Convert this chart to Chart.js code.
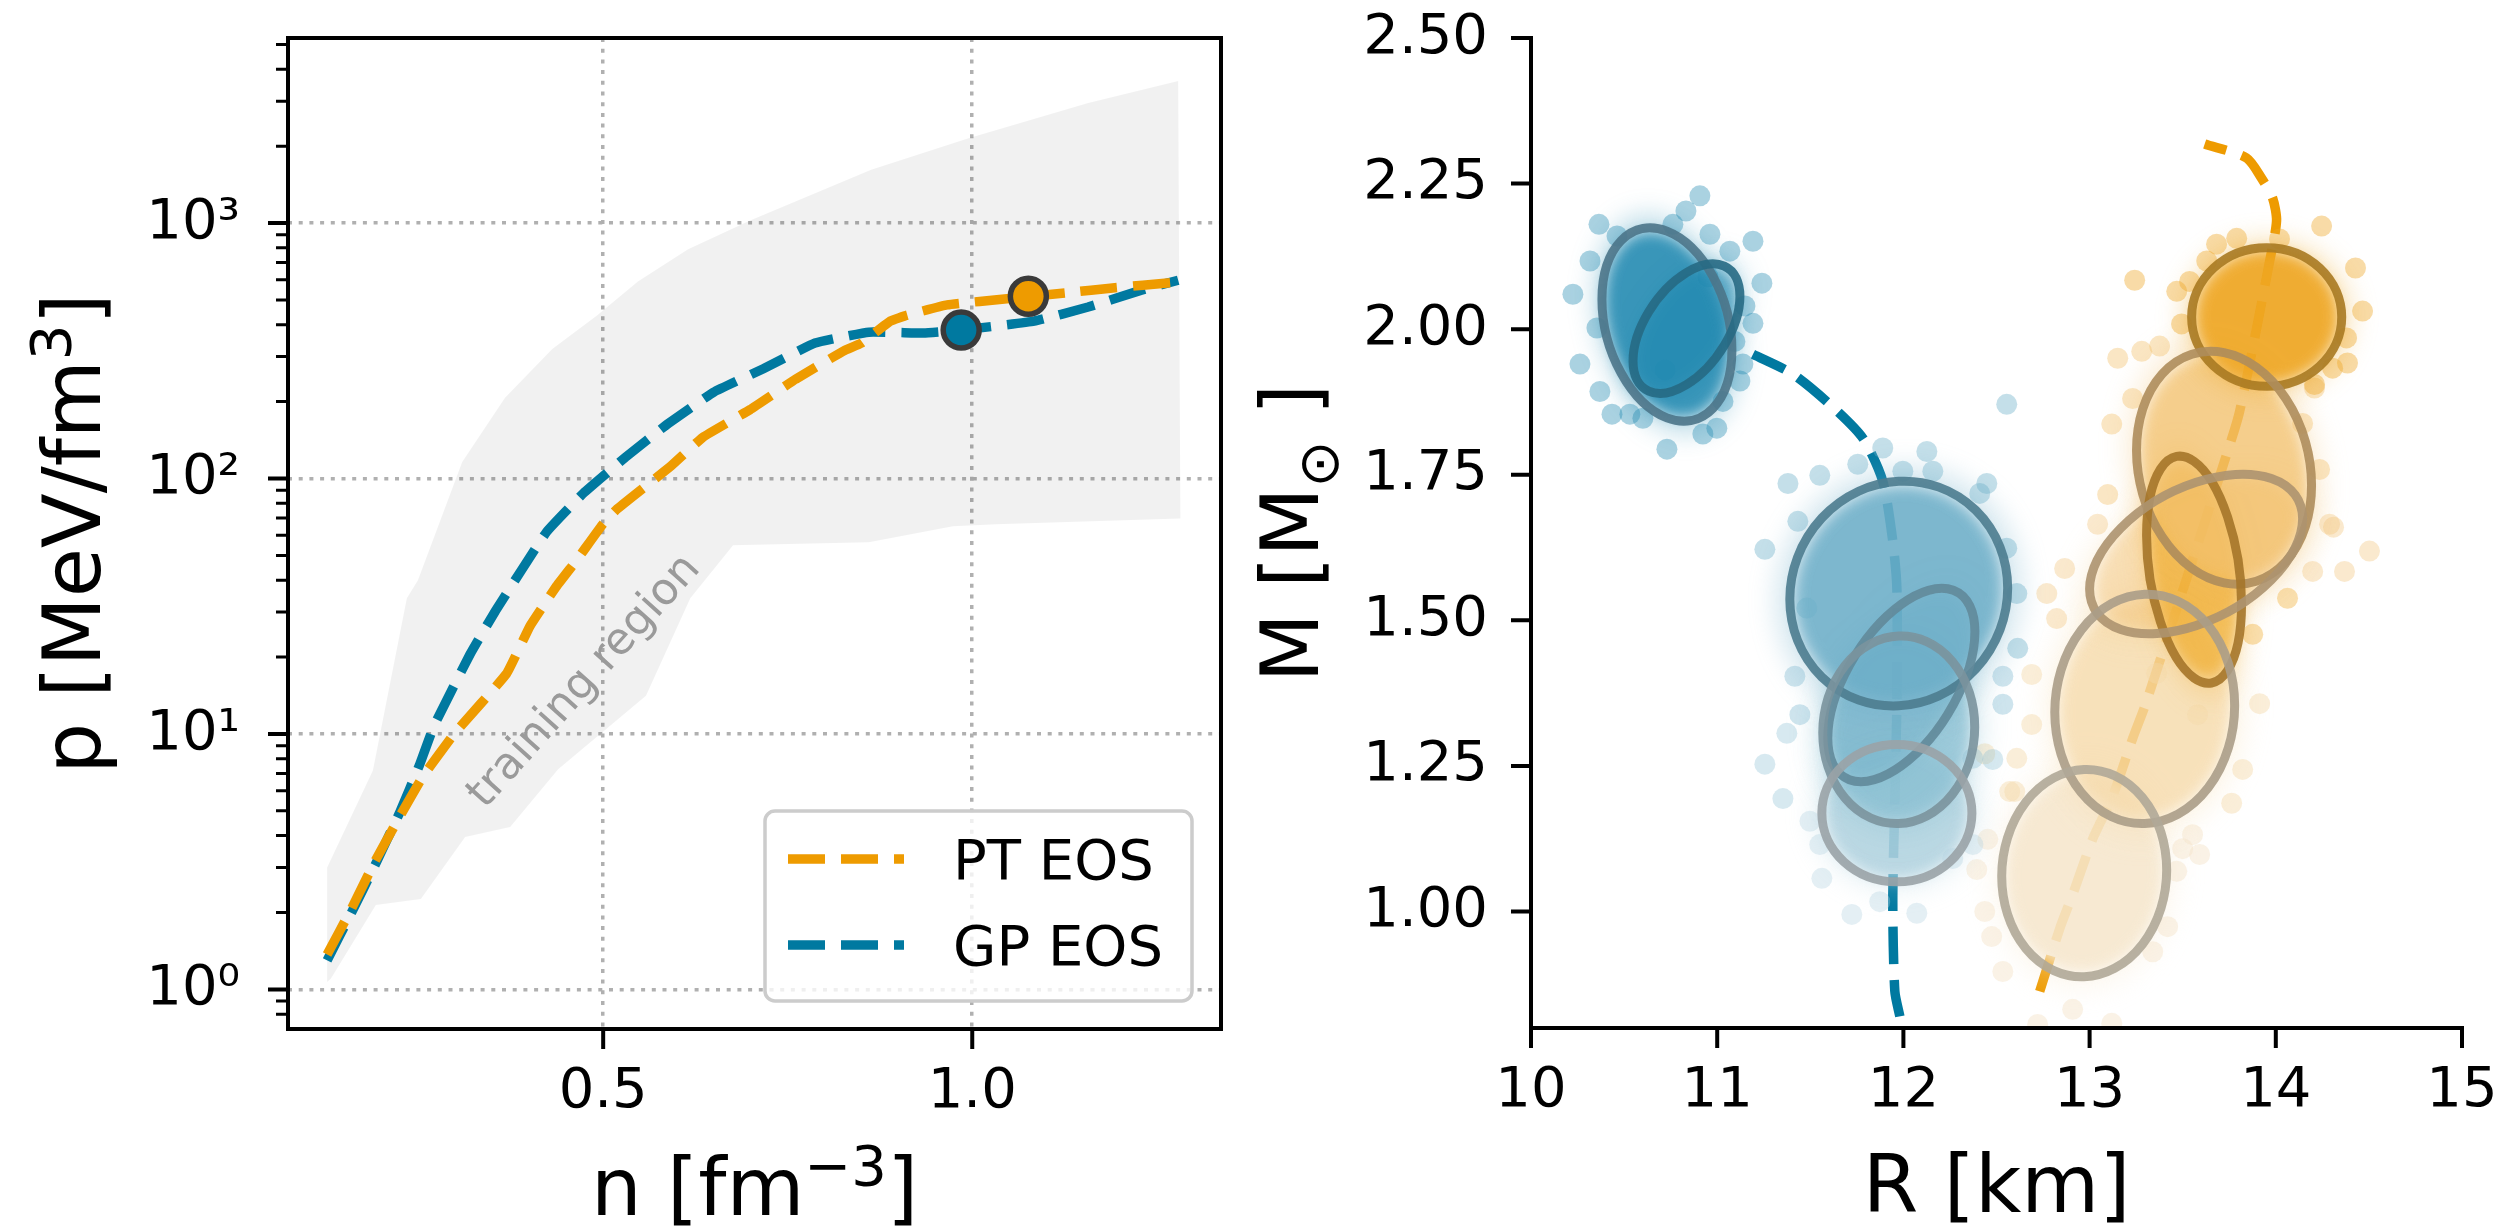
<!DOCTYPE html>
<html>
<head>
<meta charset="utf-8">
<script src="https://cdn.jsdelivr.net/npm/chart.js@4.4.1/dist/chart.umd.min.js"></script>
<style>
html, body { margin: 0; padding: 0; background: #fff; }
#wrap { position: relative; width: 2500px; height: 1227px; }
#eos { position: absolute; left: 0; top: 0; }
#mr { position: absolute; left: 1250px; top: 0; }
</style>
</head>
<body>
<div id="wrap">
  <canvas id="eos" width="1250" height="1227"></canvas>
  <canvas id="mr" width="1250" height="1227"></canvas>
</div>
<script>
// ---- left panel: pressure vs density ----
const ptDensity = [0.126, 0.159, 0.191, 0.224, 0.255, 0.298, 0.369, 0.401, 0.436, 0.465, 0.499, 0.519, 0.592, 0.635, 0.699, 0.761, 0.826, 0.850, 0.889, 0.912, 0.966, 1.054, 1.135, 1.187, 1.275];
const ptPressure = [1.37, 2.07, 3.18, 4.73, 6.77, 10.0, 17.2, 26.5, 37.6, 48.3, 66, 76, 112, 145, 186, 245, 316, 339, 413, 436, 478, 508, 536, 556, 586];
const gpDensity = [0.126, 0.159, 0.191, 0.224, 0.251, 0.271, 0.320, 0.354, 0.423, 0.474, 0.530, 0.588, 0.650, 0.717, 0.787, 0.860, 0.934, 0.985, 1.084, 1.157, 1.228, 1.279];
const gpPressure = [1.30, 2.00, 3.07, 4.90, 7.54, 10.8, 20.6, 30.3, 61.6, 88, 121, 164, 218, 269, 339, 374, 371, 381, 413, 469, 545, 597];
const ptMarker = [1.076, 517];
const gpMarker = [0.985, 381];
// training region outline: upper edge left->right, then lower edge right->left
const trainDensity = [0.126, 0.126, 0.188, 0.234, 0.249, 0.309, 0.367, 0.431, 0.492, 0.547, 0.615, 0.699, 0.863, 0.996, 1.157, 1.279, 1.282, 1.033, 0.974, 0.860, 0.676, 0.618, 0.558, 0.439, 0.374, 0.313, 0.253, 0.192, 0.131];
const trainPressure = [1.07, 3.0, 7.2, 34, 40, 116, 207, 321, 436, 591, 789, 1023, 1617, 2154, 2950, 3597, 69.8, 66.2, 65, 56.3, 54.8, 34, 14.1, 7.27, 4.32, 3.95, 2.26, 2.14, 1.10];
const regionTextAt = [0.475, 16];
const densityTicks = [0.5, 1.0];
const densityLabels = ['0.5', '1.0'];
const pressureTicks = [1, 10, 100, 1000];
const pressureLabels = ['10\u2070', '10\u00b9', '10\u00b2', '10\u00b3'];
const legendOrder = ['PT EOS', 'GP EOS'];

// ---- right panel: mass vs radius ----
const gpRadius = [11.981, 11.954, 11.943, 11.954, 11.965, 11.965, 11.943, 11.889, 11.782, 11.605, 11.406, 11.192];
const gpMass = [0.820, 0.863, 1.017, 1.189, 1.361, 1.555, 1.636, 1.739, 1.813, 1.871, 1.923, 1.957];
const ptRadius = [12.732, 12.840, 12.909, 13.017, 13.124, 13.231, 13.306, 13.736, 13.806, 13.967, 14.004, 13.983, 13.924, 13.843, 13.618];
const ptMass = [0.863, 0.971, 1.029, 1.125, 1.198, 1.297, 1.361, 1.785, 1.859, 2.117, 2.186, 2.225, 2.259, 2.294, 2.318];
// ellipses: [R centre, M centre, R half-extent, M half-extent, correlation]
const gpEllipses = [
  [10.730, 2.008, 0.349, 0.166, -0.26],
  [10.835, 2.001, 0.287, 0.111, 0.50],
  [11.975, 1.546, 0.585, 0.193, 0.05],
  [11.989, 1.389, 0.395, 0.166, 0.55],
  [11.975, 1.312, 0.408, 0.161, 0.03],
  [11.965, 1.169, 0.403, 0.118, 0.00]
];
const ptEllipses = [
  [13.951, 2.021, 0.403, 0.119, 0.00],
  [13.722, 1.762, 0.470, 0.200, -0.15],
  [13.561, 1.587, 0.255, 0.195, -0.30],
  [13.572, 1.614, 0.572, 0.137, 0.44],
  [13.296, 1.348, 0.483, 0.197, 0.03],
  [12.971, 1.066, 0.443, 0.178, 0.03]
];
// scattered samples, one list per ellipse
const gpCloudA = [[10.907,2.229],[10.832,2.203],[10.762,2.180],[10.365,2.180],[10.462,2.160],[11.192,2.151],[11.240,2.079],[10.225,2.060],[11.192,2.010],[10.354,2.002],[10.263,1.940],[11.138,1.940],[11.122,1.911],[10.435,1.854],[10.531,1.854],[10.601,1.847],[10.923,1.820],[10.998,1.830],[10.730,1.794],[11.031,1.876],[11.068,2.134],[10.961,2.163],[10.317,2.117],[10.370,1.893],[11.149,2.040],[11.095,1.979]];
const gpCloudB = [[10.95,2.09],[10.72,1.93]];
const gpCloudC = [[11.380,1.735],[11.551,1.749],[11.889,1.796],[12.126,1.790],[12.158,1.756],[11.997,1.756],[11.755,1.768],[11.256,1.622],[11.433,1.670],[12.448,1.735],[12.410,1.718],[12.555,1.624],[12.609,1.546],[12.614,1.452],[11.481,1.521],[12.555,1.871]];
const gpCloudD = [[12.534,1.404],[11.417,1.404],[11.444,1.338],[12.534,1.356]];
const gpCloudE = [[11.374,1.306],[11.256,1.253],[12.373,1.263],[12.480,1.261],[11.353,1.194]];
const gpCloudF = [[11.498,1.155],[11.551,1.115],[11.562,1.057],[11.723,0.995],[12.072,0.997],[11.873,1.017],[12.265,1.091],[12.373,1.115]];
const ptCloudG = [[14.246,2.177],[14.428,2.105],[14.466,2.031],[14.385,1.942],[14.208,1.905],[13.242,2.084],[13.468,2.065],[13.682,2.146],[13.790,2.156],[14.020,2.155],[13.629,2.117],[13.537,2.082],[14.305,1.933],[14.380,1.985],[13.494,2.009]];
const ptCloudH = [[13.376,1.971],[13.280,1.962],[13.151,1.950],[13.119,1.837],[13.231,1.881],[14.208,1.899],[14.144,1.838],[14.235,1.759],[13.097,1.716]];
const ptCloudI = [[13.876,1.476],[14.063,1.538]];
const ptCloudJ = [[13.043,1.665],[12.866,1.589],[12.770,1.546],[12.823,1.503],[14.289,1.665],[14.503,1.619],[14.369,1.584],[14.198,1.584],[14.310,1.660]];
const ptCloudK = [[12.689,1.407],[12.689,1.321],[12.609,1.263],[12.571,1.206],[13.913,1.357],[13.822,1.244],[13.763,1.186],[13.360,1.409],[13.580,1.338],[12.437,1.271],[12.598,1.206]];
const ptCloudL = [[12.453,1.124],[12.394,1.072],[12.437,1.000],[12.474,0.957],[12.534,0.897],[12.721,0.806],[12.909,0.832],[13.119,0.808],[13.339,0.931],[13.419,0.974],[13.468,1.069],[13.591,1.098],[13.500,1.108],[13.553,1.132]];
const radiusTicks = [10, 11, 12, 13, 14, 15];
const massTicks = [1.0, 1.25, 1.5, 1.75, 2.0, 2.25, 2.5];
const massLabels = ['1.00', '1.25', '1.50', '1.75', '2.00', '2.25', '2.50'];

// styles
const PT_COLOR = '#ee9b00';
const GP_COLOR = '#0079a0';
const FONT = "'DejaVu Sans', sans-serif";
const gpRing = ['#4c7689', '#276a84', '#4d7c8f', '#62899a', '#7b939d', '#9aa3a7'];
const ptRing = ['#a97a22', '#ae8d5c', '#a5762a', '#ad9470', '#ab9d88', '#b0a898'];
const gpTint = [[32,136,176],[32,136,176],[108,174,200],[115,178,202],[140,192,211],[178,210,223]];
const ptTint = [[238,166,35],[242,192,108],[240,176,55],[243,198,125],[245,218,170],[246,230,205]];
const gpCore = [0.85, 0.6, 0.85, 0.5, 0.8, 0.85];
const ptCore = [0.9, 0.72, 0.75, 0.5, 0.75, 0.85];
const gpDot = [0.38, 0.38, 0.4, 0.35, 0.35, 0.35];
const ptDot = [0.4, 0.4, 0.4, 0.38, 0.45, 0.5];

Chart.defaults.font.family = FONT;
Chart.defaults.color = '#000';

const xy = (xs, ys) => xs.map((x, i) => ({x: x, y: ys[i]}));
const pairs = (arr) => arr.map(p => ({x: p[0], y: p[1]}));
const rgba = (c, a) => `rgba(${c[0]},${c[1]},${c[2]},${a})`;

function drawParts(ctx, parts, size) {
  let w = 0;
  parts.forEach(p => {
    ctx.font = `${p.sup || p.sub ? size * 0.7 : size}px ${FONT}`;
    p.w = ctx.measureText(p.t).width;
    w += p.w;
  });
  let x = -w / 2;
  parts.forEach(p => {
    ctx.font = `${p.sup || p.sub ? size * 0.7 : size}px ${FONT}`;
    ctx.fillText(p.t, x, p.sup ? -size * 0.37 : (p.sub ? size * 0.25 : 0));
    x += p.w;
  });
}

// spines and outward tick marks, like matplotlib
const framePlugin = {
  id: 'frame',
  afterDraw(chart, args, opts) {
    const {ctx, chartArea: a} = chart;
    const xs = chart.scales.x, ys = chart.scales.y;
    ctx.save();
    ctx.strokeStyle = '#000';
    ctx.lineCap = 'square';
    ctx.lineWidth = 4;
    ctx.beginPath();
    if (opts.box) {
      ctx.rect(a.left, a.top, a.right - a.left, a.bottom - a.top);
    } else {
      ctx.moveTo(a.left, a.top);
      ctx.lineTo(a.left, a.bottom);
      ctx.lineTo(a.right, a.bottom);
    }
    ctx.stroke();
    ctx.lineCap = 'butt';
    ctx.beginPath();
    xs.ticks.forEach(t => {
      const p = xs.getPixelForValue(t.value);
      ctx.moveTo(p, a.bottom); ctx.lineTo(p, a.bottom + 20);
    });
    ys.ticks.forEach(t => {
      if (t.major === false) return;
      const p = ys.getPixelForValue(t.value);
      ctx.moveTo(a.left, p); ctx.lineTo(a.left - 20, p);
    });
    ctx.stroke();
    ctx.lineWidth = 3;
    ctx.beginPath();
    ys.ticks.forEach(t => {
      if (t.major !== false) return;
      const p = ys.getPixelForValue(t.value);
      ctx.moveTo(a.left, p); ctx.lineTo(a.left - 12, p);
    });
    ctx.stroke();
    ctx.restore();
  }
};

const titlePlugin = {
  id: 'axisTitles',
  afterDraw(chart, args, opts) {
    const {ctx, chartArea: a} = chart;
    ctx.save();
    ctx.fillStyle = '#000';
    ctx.textAlign = 'left';
    ctx.textBaseline = 'alphabetic';
    ctx.save();
    ctx.translate((a.left + a.right) / 2, a.bottom + opts.xOffset);
    drawParts(ctx, opts.xParts, 80);
    ctx.restore();
    ctx.save();
    ctx.translate(a.left - opts.yOffset, (a.top + a.bottom) / 2);
    ctx.rotate(-Math.PI / 2);
    drawParts(ctx, opts.yParts, 80);
    ctx.restore();
    ctx.restore();
  }
};

const eosLegendPlugin = {
  id: 'eosLegend',
  afterDraw(chart) {
    const {ctx, chartArea: a} = chart;
    const w = 427, h = 190;
    const x0 = a.right - 29 - w, y0 = a.bottom - 28 - h;
    ctx.save();
    ctx.beginPath();
    ctx.roundRect(x0, y0, w, h, 10);
    ctx.fillStyle = 'rgba(255,255,255,0.8)';
    ctx.fill();
    ctx.lineWidth = 3.5;
    ctx.strokeStyle = '#cccccc';
    ctx.stroke();
    legendOrder.forEach((name, i) => {
      const d = chart.data.datasets.find(ds => ds.label === name);
      const yy = y0 + 48 + i * 86;
      ctx.setLineDash(d.borderDash);
      ctx.lineWidth = d.borderWidth;
      ctx.strokeStyle = d.borderColor;
      ctx.beginPath();
      ctx.moveTo(x0 + 23, yy);
      ctx.lineTo(x0 + 139, yy);
      ctx.stroke();
      ctx.setLineDash([]);
      ctx.fillStyle = '#000';
      ctx.font = `56px ${FONT}`;
      ctx.textBaseline = 'alphabetic';
      ctx.fillText(d.label, x0 + 188, yy + 20);
    });
    ctx.restore();
  }
};

const regionTextPlugin = {
  id: 'regionText',
  afterDatasetsDraw(chart) {
    const {ctx, scales} = chart;
    ctx.save();
    ctx.translate(scales.x.getPixelForValue(regionTextAt[0]), scales.y.getPixelForValue(regionTextAt[1]));
    ctx.rotate(-48 * Math.PI / 180);
    ctx.font = `44px ${FONT}`;
    ctx.fillStyle = '#9a9a9a';
    ctx.textAlign = 'center';
    ctx.textBaseline = 'middle';
    ctx.fillText('training region', 0, 0);
    ctx.restore();
  }
};

function ellipsePath(ctx, xs, ys, e, grow) {
  const x0 = xs.getPixelForValue(e[0]), y0 = ys.getPixelForValue(e[1]);
  const kx = (xs.getPixelForValue(e[0] + e[2]) - x0) * grow;
  const ky = (ys.getPixelForValue(e[1] + e[3]) - y0) * grow;
  const r = e[4];
  ctx.save();
  ctx.transform(kx, ky * r, 0, ky * Math.sqrt(1 - r * r), x0, y0);
  ctx.beginPath();
  ctx.arc(0, 0, 1, 0, Math.PI * 2);
  ctx.restore();
}

// soft dense core of each sample cloud + the ellipse rings on top
const cloudPlugin = {
  id: 'clouds',
  beforeDatasetDraw(chart, args) {
    const ds = chart.data.datasets[args.index];
    if (!ds.ellipse) return;
    const {ctx, chartArea: a, scales} = chart;
    ctx.save();
    ctx.beginPath();
    ctx.rect(a.left, a.top, a.right - a.left, a.bottom - a.top);
    ctx.clip();
    ctx.filter = 'blur(12px)';
    ctx.fillStyle = ds.haloColor;
    ellipsePath(ctx, scales.x, scales.y, ds.ellipse, 1.15);
    ctx.fill();
    ctx.filter = 'blur(7px)';
    ctx.fillStyle = ds.coreColor;
    ellipsePath(ctx, scales.x, scales.y, ds.ellipse, 0.95);
    ctx.fill();
    ctx.restore();
  },
  afterDatasetsDraw(chart) {
    const {ctx, chartArea: a, scales} = chart;
    ctx.save();
    ctx.beginPath();
    ctx.rect(a.left, a.top, a.right - a.left, a.bottom - a.top);
    ctx.clip();
    ctx.globalAlpha = 0.9;
    ctx.lineWidth = 9;
    chart.data.datasets.forEach(ds => {
      if (!ds.ellipse) return;
      ctx.strokeStyle = ds.ringColor;
      ellipsePath(ctx, scales.x, scales.y, ds.ellipse, 1.0);
      ctx.stroke();
    });
    ctx.restore();
  }
};

const gridColor = (c) => (c.tick && c.tick.major !== false) ? '#b0b0b0' : 'rgba(0,0,0,0)';

function logTicks(min, max) {
  const out = [];
  for (let d = -1; d <= 4; d++) {
    for (let m = 1; m <= 9; m++) {
      const v = m * Math.pow(10, d);
      if (v >= min && v <= max) out.push({value: v, major: m === 1});
    }
  }
  return out;
}

new Chart(document.getElementById('eos'), {
  type: 'scatter',
  data: {
    datasets: [
      {label: 'gp-marker', data: [{x: gpMarker[0], y: gpMarker[1]}], pointRadius: 18, pointBorderWidth: 5.5,
       pointBackgroundColor: GP_COLOR, pointBorderColor: '#3a3a3a', order: 1},
      {label: 'pt-marker', data: [{x: ptMarker[0], y: ptMarker[1]}], pointRadius: 18, pointBorderWidth: 5.5,
       pointBackgroundColor: PT_COLOR, pointBorderColor: '#3a3a3a', order: 1},
      {label: 'PT EOS', data: xy(ptDensity, ptPressure), showLine: true, borderColor: PT_COLOR, borderWidth: 9.5,
       borderDash: [37, 16], borderCapStyle: 'butt', pointRadius: 0, tension: 0.1, fill: false, order: 2},
      {label: 'GP EOS', data: xy(gpDensity, gpPressure), showLine: true, borderColor: GP_COLOR, borderWidth: 9.5,
       borderDash: [37, 16], borderCapStyle: 'butt', pointRadius: 0, tension: 0.1, fill: false, order: 3},
      {label: 'training region', data: xy(trainDensity, trainPressure), showLine: true, borderColor: 'rgba(0,0,0,0)',
       borderWidth: 0, backgroundColor: 'rgba(0,0,0,0.055)', fill: 'shape', pointRadius: 0, tension: 0, order: 4}
    ]
  },
  options: {
    responsive: false, animation: false, events: [],
    layout: {padding: {left: 0, top: 38, right: 29, bottom: 0}},
    plugins: {
      legend: {display: false}, tooltip: {enabled: false},
      frame: {box: true},
      axisTitles: {
        xParts: [{t: 'n [fm'}, {t: '\u22123', sup: true}, {t: ']'}], xOffset: 186,
        yParts: [{t: 'p [MeV/fm'}, {t: '3', sup: true}, {t: ']'}], yOffset: 188
      }
    },
    scales: {
      x: {
        type: 'linear', min: 0.073, max: 1.337,
        afterBuildTicks: s => { s.ticks = densityTicks.map(v => ({value: v})); },
        afterFit: s => { s.height = 198; s.paddingLeft = 0; s.paddingRight = 0; },
        ticks: {autoSkip: false, maxRotation: 0, padding: 30, font: {size: 56}, color: '#000',
                callback: v => densityLabels[densityTicks.indexOf(v)]},
        grid: {drawTicks: false, color: gridColor, lineWidth: 3.5},
        border: {display: false, dash: [4, 6.7]}
      },
      y: {
        type: 'logarithmic', min: 0.724, max: 5300,
        afterBuildTicks: s => { s.ticks = logTicks(0.724, 5300); },
        afterFit: s => { s.width = 288; s.paddingTop = 0; s.paddingBottom = 0; },
        ticks: {autoSkip: false, padding: 48, font: {size: 56}, color: '#000',
                callback: v => { const i = pressureTicks.indexOf(v); return i >= 0 ? pressureLabels[i] : ''; }},
        grid: {drawTicks: false, color: gridColor, lineWidth: 3.5},
        border: {display: false, dash: [4, 6.7]}
      }
    }
  },
  plugins: [framePlugin, titlePlugin, eosLegendPlugin, regionTextPlugin]
});

const cloudSets = [];
[gpCloudA, gpCloudB, gpCloudC, gpCloudD, gpCloudE, gpCloudF].forEach((pts, i) => {
  cloudSets.push({label: 'GP cloud ' + i, data: pairs(pts), ellipse: gpEllipses[i], ringColor: gpRing[i],
    coreColor: rgba(gpTint[i], gpCore[i]), haloColor: rgba(gpTint[i], gpCore[i] * 0.3),
    pointRadius: 10.5, pointBorderWidth: 0, pointBackgroundColor: rgba(gpTint[i], gpDot[i]), order: 10});
});
[ptCloudG, ptCloudH, ptCloudI, ptCloudJ, ptCloudK, ptCloudL].forEach((pts, i) => {
  cloudSets.push({label: 'PT cloud ' + i, data: pairs(pts), ellipse: ptEllipses[i], ringColor: ptRing[i],
    coreColor: rgba(ptTint[i], ptCore[i]), haloColor: rgba(ptTint[i], ptCore[i] * 0.3),
    pointRadius: 10.5, pointBorderWidth: 0, pointBackgroundColor: rgba(ptTint[i], ptDot[i]), order: 10});
});

new Chart(document.getElementById('mr'), {
  type: 'scatter',
  data: {
    datasets: cloudSets.concat([
      {label: 'GP M-R', data: xy(gpRadius, gpMass), showLine: true, borderColor: GP_COLOR, borderWidth: 9.5,
       borderDash: [37, 16], borderCapStyle: 'butt', pointRadius: 0, tension: 0.25, order: 20},
      {label: 'PT M-R', data: xy(ptRadius, ptMass), showLine: true, borderColor: PT_COLOR, borderWidth: 9.5,
       borderDash: [37, 16], borderCapStyle: 'butt', pointRadius: 0, tension: 0.25, order: 20}
    ])
  },
  options: {
    responsive: false, animation: false, events: [],
    layout: {padding: {left: 0, top: 38, right: 38, bottom: 0}},
    plugins: {
      legend: {display: false}, tooltip: {enabled: false},
      frame: {box: false},
      axisTitles: {
        xParts: [{t: 'R [km]'}], xOffset: 184,
        yParts: [{t: 'M [M'}, {t: '\u2299', sub: true}, {t: ' ]'}], yOffset: 213
      }
    },
    scales: {
      x: {
        type: 'linear', min: 10, max: 15,
        afterBuildTicks: s => { s.ticks = radiusTicks.map(v => ({value: v})); },
        afterFit: s => { s.height = 199; s.paddingLeft = 0; s.paddingRight = 0; },
        ticks: {autoSkip: false, maxRotation: 0, padding: 30, font: {size: 56}, color: '#000',
                callback: v => String(v)},
        grid: {display: false, drawTicks: false},
        border: {display: false}
      },
      y: {
        type: 'linear', min: 0.8, max: 2.5,
        afterBuildTicks: s => { s.ticks = massTicks.map(v => ({value: v})); },
        afterFit: s => { s.width = 281; s.paddingTop = 0; s.paddingBottom = 0; },
        ticks: {autoSkip: false, padding: 43, font: {size: 56}, color: '#000',
                callback: v => massLabels[massTicks.indexOf(v)]},
        grid: {display: false, drawTicks: false},
        border: {display: false}
      }
    }
  },
  plugins: [cloudPlugin, framePlugin, titlePlugin]
});
</script>
</body>
</html>
